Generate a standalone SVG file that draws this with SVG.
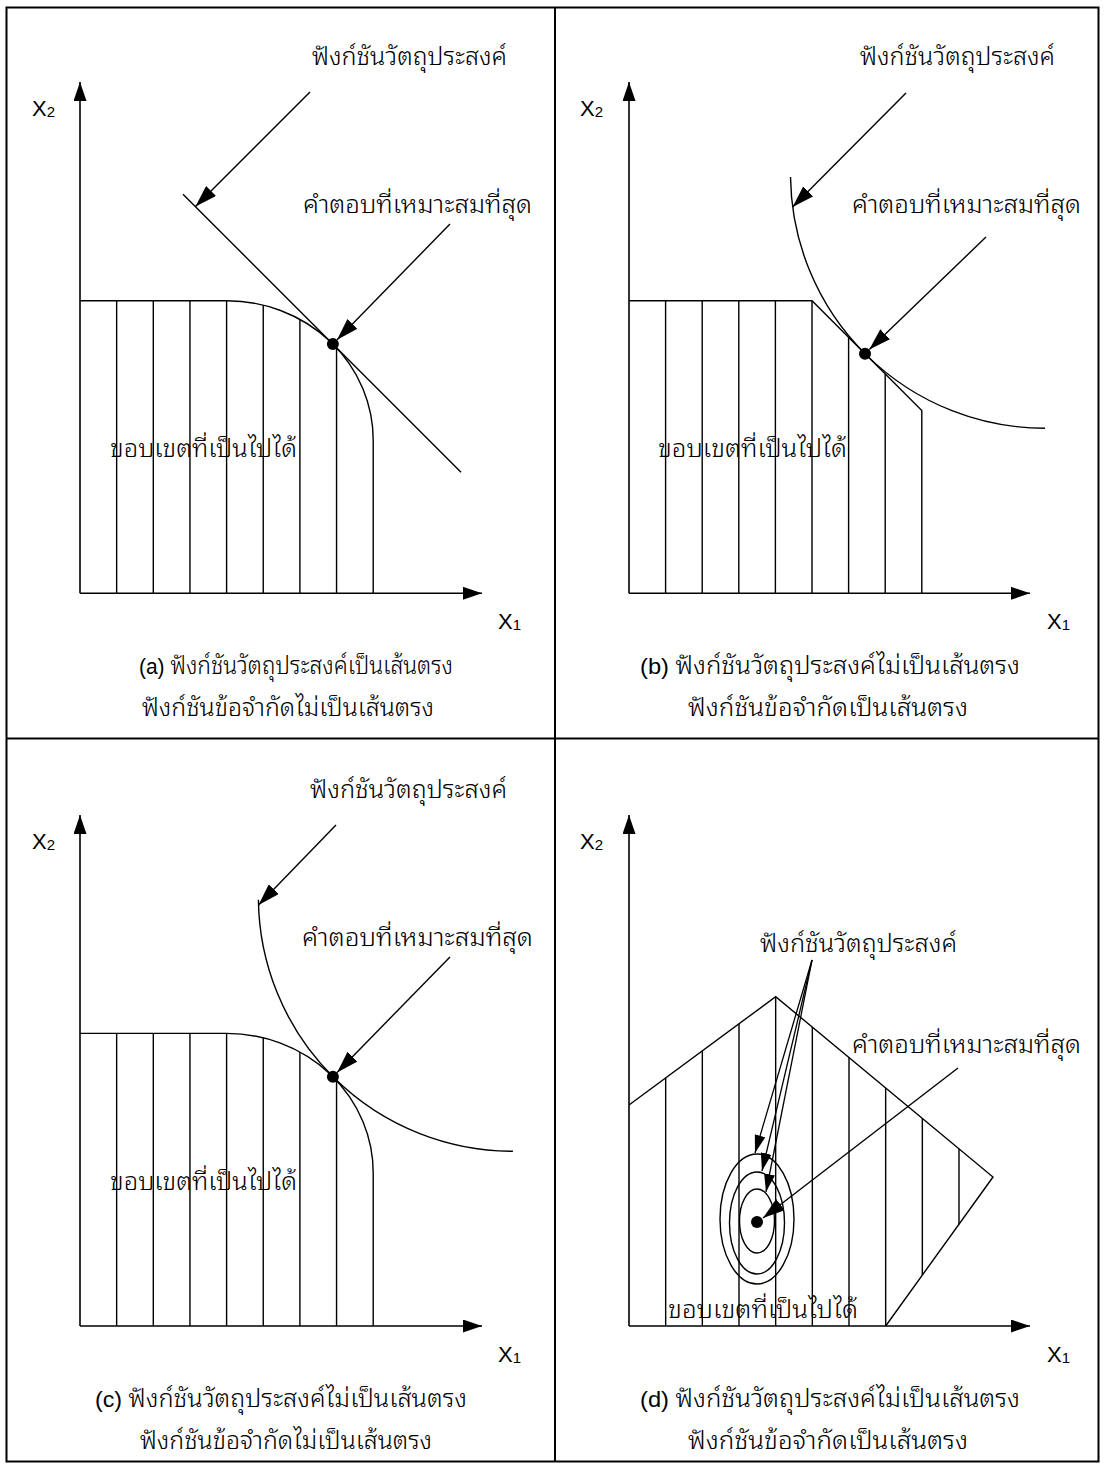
<svg xmlns="http://www.w3.org/2000/svg" width="1105" height="1468" viewBox="0 0 1105 1468">
  <defs>
    <style>
      .ln{fill:none;stroke:#000;stroke-width:1.4}
      .ax{fill:none;stroke:#000;stroke-width:1.6;marker-end:url(#axhead)}
      .ar{fill:none;stroke:#000;stroke-width:1.4;marker-end:url(#head)}
      .ars{fill:none;stroke:#000;stroke-width:1.3;marker-end:url(#heads)}
      .frame{fill:none;stroke:#000;stroke-width:2}
      .th{font-family:"Liberation Sans","Noto Sans Thai Looped","Noto Sans Thai","Loma","Garuda",sans-serif;font-size:24px;font-weight:300;fill:#000}
      .lat{font-size:22px}
      .lb{font-family:"Liberation Sans",Arial,sans-serif;font-size:22px;fill:#000}
      .sub{font-size:15px}
      .dot{fill:#000}
    </style>
    <marker id="head" viewBox="0 0 22 14" refX="22" refY="7" markerWidth="22" markerHeight="14" markerUnits="userSpaceOnUse" orient="auto">
      <path d="M0,0L22,7L0,14z"/>
    </marker>
    <marker id="heads" viewBox="0 0 18 11" refX="18" refY="5.5" markerWidth="18" markerHeight="11" markerUnits="userSpaceOnUse" orient="auto">
      <path d="M0,0L18,5.5L0,11z"/>
    </marker>
    <marker id="axhead" viewBox="0 0 19 13" refX="19" refY="6.5" markerWidth="19" markerHeight="13" markerUnits="userSpaceOnUse" orient="auto">
      <path d="M0,0L19,6.5L0,13z"/>
    </marker>
  </defs>

  <!-- table frame -->
  <g id="frame">
    <rect class="frame" x="6.5" y="7.5" width="1092" height="1454"/>
    <line class="frame" x1="555" y1="7.5" x2="555" y2="1461.5"/>
    <line class="frame" x1="6.5" y1="738.5" x2="1098.5" y2="738.5"/>
  </g>

  <!-- (a) linear objective, nonlinear constraint -->
  <g id="panel-a">
    <path class="ax" d="M80,593.3 V82"/>
    <path class="ax" d="M80,593.3 H482"/>
    <text class="lb" x="32" y="116">X<tspan class="sub" dy="1">2</tspan></text>
    <text class="lb" x="498" y="629">X<tspan class="sub" dy="1">1</tspan></text>
    <path class="ln" d="M80,300.7 H226.6 A146.6,139.3 0 0 1 373.2,440 V593.3"/>
    <path class="ln" d="M116.65,593.3V300.7 M153.3,593.3V300.7 M189.95,593.3V300.7 M226.6,593.3V300.7 M263.25,593.3V305.1 M299.9,593.3V319.4 M336.55,593.3V347.9"/>
    <line class="ln" x1="183" y1="194.2" x2="461" y2="472.2"/>
    <circle class="dot" cx="332.9" cy="344" r="6"/>
    <text class="th" x="110" y="457" textLength="187" lengthAdjust="spacingAndGlyphs">ขอบเขตที่เป็นไปได้</text>
    <text class="th" x="139" y="674" textLength="314" lengthAdjust="spacingAndGlyphs"><tspan class="lat">(a) </tspan>ฟังก์ชันวัตถุประสงค์เป็นเส้นตรง</text>
    <text class="th" x="142" y="716" textLength="292" lengthAdjust="spacingAndGlyphs">ฟังก์ชันข้อจำกัดไม่เป็นเส้นตรง</text>
  </g>
  <g id="label-a-objective">
    <text class="th" x="312" y="65" textLength="195" lengthAdjust="spacingAndGlyphs">ฟังก์ชันวัตถุประสงค์</text>
  </g>
  <g id="label-a-optimum">
    <text class="th" x="303" y="213" textLength="229" lengthAdjust="spacingAndGlyphs">คำตอบที่เหมาะสมที่สุด</text>
  </g>

  <!-- (b) nonlinear objective, linear constraint -->
  <g id="panel-b">
    <path class="ax" d="M629,593.3 V82"/>
    <path class="ax" d="M629,593.3 H1030"/>
    <text class="lb" x="580" y="116">X<tspan class="sub" dy="1">2</tspan></text>
    <text class="lb" x="1047" y="629">X<tspan class="sub" dy="1">1</tspan></text>
    <path class="ln" d="M629,300.7 H812 L921.8,410.5 V593.3"/>
    <path class="ln" d="M665.6,593.3V300.7 M702.2,593.3V300.7 M738.8,593.3V300.7 M775.4,593.3V300.7 M812,593.3V300.7 M848.6,593.3V337.3 M885.2,593.3V373.9"/>
    <path class="ln" d="M790.5,177 A254.56,254.56 0 0 0 1045,428.3"/>
    <circle class="dot" cx="865" cy="353.7" r="6"/>
    <text class="th" x="658" y="457" textLength="189" lengthAdjust="spacingAndGlyphs">ขอบเขตที่เป็นไปได้</text>
    <text class="th" x="640" y="674" textLength="380" lengthAdjust="spacingAndGlyphs"><tspan class="lat">(b) </tspan>ฟังก์ชันวัตถุประสงค์ไม่เป็นเส้นตรง</text>
    <text class="th" x="688" y="716" textLength="280" lengthAdjust="spacingAndGlyphs">ฟังก์ชันข้อจำกัดเป็นเส้นตรง</text>
  </g>
  <g id="label-b-objective">
    <text class="th" x="860" y="65" textLength="195" lengthAdjust="spacingAndGlyphs">ฟังก์ชันวัตถุประสงค์</text>
  </g>
  <g id="label-b-optimum">
    <text class="th" x="852" y="213" textLength="229" lengthAdjust="spacingAndGlyphs">คำตอบที่เหมาะสมที่สุด</text>
  </g>

  <!-- (c) nonlinear objective, nonlinear constraint -->
  <g id="panel-c">
    <path class="ax" d="M80,1326 V815"/>
    <path class="ax" d="M80,1326 H482"/>
    <text class="lb" x="32" y="849">X<tspan class="sub" dy="1">2</tspan></text>
    <text class="lb" x="498" y="1362">X<tspan class="sub" dy="1">1</tspan></text>
    <path class="ln" d="M80,1033.4 H226.6 A146.6,139.3 0 0 1 373.2,1172.7 V1326"/>
    <path class="ln" d="M116.65,1326V1033.4 M153.3,1326V1033.4 M189.95,1326V1033.4 M226.6,1326V1033.4 M263.25,1326V1037.8 M299.9,1326V1052.1 M336.55,1326V1080.6"/>
    <path class="ln" d="M258.4,899.7 A254.56,254.56 0 0 0 512.9,1151.3"/>
    <circle class="dot" cx="332.9" cy="1076.7" r="6"/>
    <text class="th" x="110" y="1190" textLength="187" lengthAdjust="spacingAndGlyphs">ขอบเขตที่เป็นไปได้</text>
    <text class="th" x="95" y="1407" textLength="372" lengthAdjust="spacingAndGlyphs"><tspan class="lat">(c) </tspan>ฟังก์ชันวัตถุประสงค์ไม่เป็นเส้นตรง</text>
    <text class="th" x="140" y="1449" textLength="292" lengthAdjust="spacingAndGlyphs">ฟังก์ชันข้อจำกัดไม่เป็นเส้นตรง</text>
  </g>
  <g id="label-c-objective">
    <text class="th" x="310" y="798" textLength="197" lengthAdjust="spacingAndGlyphs">ฟังก์ชันวัตถุประสงค์</text>
  </g>
  <g id="label-c-optimum">
    <text class="th" x="302" y="946" textLength="231" lengthAdjust="spacingAndGlyphs">คำตอบที่เหมาะสมที่สุด</text>
  </g>

  <!-- (d) nonlinear objective (contours), linear constraints -->
  <g id="panel-d">
    <path class="ax" d="M629,1326 V815"/>
    <path class="ax" d="M629,1326 H1030"/>
    <text class="lb" x="580" y="849">X<tspan class="sub" dy="1">2</tspan></text>
    <text class="lb" x="1047" y="1362">X<tspan class="sub" dy="1">1</tspan></text>
    <path class="ln" d="M629,1105 L775.67,996.7 L993,1177 L885.67,1326"/>
    <path class="ln" d="M665.67,1326V1077.9 M702.33,1326V1050.8 M739,1326V1023.7 M775.67,1326V996.7 M812.33,1326V1027.1 M849,1326V1057.5 M885.67,1326V1087.9 M922.33,1275.1V1118.3 M959,1224.2V1148.7"/>
    <ellipse class="ln" cx="757" cy="1219" rx="37" ry="65"/>
    <ellipse class="ln" cx="757" cy="1223" rx="27.5" ry="51"/>
    <ellipse class="ln" cx="757" cy="1221" rx="17.5" ry="32"/>
    <circle class="dot" cx="757" cy="1222" r="6"/>
    <text class="th" x="668" y="1318" textLength="190" lengthAdjust="spacingAndGlyphs">ขอบเขตที่เป็นไปได้</text>
    <text class="th" x="640" y="1407" textLength="380" lengthAdjust="spacingAndGlyphs"><tspan class="lat">(d) </tspan>ฟังก์ชันวัตถุประสงค์ไม่เป็นเส้นตรง</text>
    <text class="th" x="688" y="1449" textLength="280" lengthAdjust="spacingAndGlyphs">ฟังก์ชันข้อจำกัดเป็นเส้นตรง</text>
  </g>
  <g id="label-d-objective">
    <text class="th" x="760" y="952" textLength="197" lengthAdjust="spacingAndGlyphs">ฟังก์ชันวัตถุประสงค์</text>
  </g>
  <g id="label-d-optimum">
    <text class="th" x="852" y="1053" textLength="229" lengthAdjust="spacingAndGlyphs">คำตอบที่เหมาะสมที่สุด</text>
  </g>

  <!-- pointer arrows from the labels -->
  <g id="connectors">
    <line class="ar" x1="310" y1="92" x2="195.5" y2="206.6"/>
    <line class="ar" x1="450" y1="224" x2="337.1" y2="339.7"/>
    <line class="ar" x1="906" y1="93" x2="792.6" y2="207"/>
    <line class="ar" x1="986" y1="237" x2="869.3" y2="349.5"/>
    <line class="ar" x1="336" y1="825" x2="258.5" y2="905"/>
    <line class="ar" x1="450" y1="957" x2="337.1" y2="1072.4"/>
    <line class="ars" x1="812" y1="960" x2="755" y2="1153"/>
    <line class="ars" x1="812" y1="960" x2="762" y2="1171"/>
    <line class="ars" x1="812" y1="960" x2="766" y2="1192"/>
    <line class="ar" x1="958" y1="1068" x2="763" y2="1218"/>
  </g>
</svg>
